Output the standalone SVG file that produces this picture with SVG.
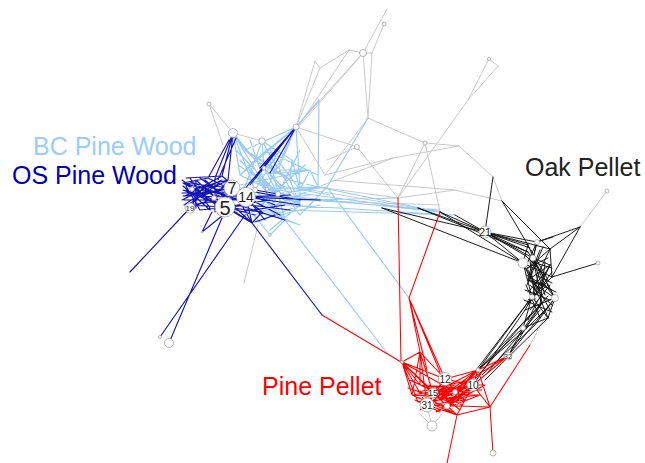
<svg xmlns="http://www.w3.org/2000/svg" width="645" height="463" viewBox="0 0 645 463">
<style>
.e{fill:none;stroke-linecap:round;stroke-linejoin:round}
.gr{stroke:#c4c4c4;stroke-width:0.9}
.lb{stroke:#99ccf5;stroke-width:1.2}
.db{stroke:#1515b5;stroke-width:1.15}
.bk{stroke:#111;stroke-width:0.95}
.rd{stroke:#f00;stroke-width:1.05}
.n{fill:#fff;stroke:#9a9a9a;stroke-width:0.7}
.nl{font-family:"Liberation Sans",Arial,sans-serif;fill:#222;text-anchor:middle}
.lab{font-family:"Liberation Sans",Arial,sans-serif;font-size:25px}
</style>
<rect width="645" height="463" fill="#fff"/>
<g id="connectors">
<path class="e gr" d="M387,9 L363,53 M384,24 L372,53 M363,53 L349,50 M363,53 L372,53 M349,50 L320,68 M315,61 L320,68 M315,61 L296,127 M320,68 L296,127 M363,53 L296,127 M349,50 L298,127 M360,57 L300,125 M363,53 L368,118 M372,53 L368,118 M368,118 L325,175 M296,127 L357,147 M357,147 L398,198 M368,118 L425,143 M425,143 L398,198 M425,143 L440,212 M498,66 L468,100 L398,198 M489,59 L498,66 M489,59 L468,100 M425,143 L459,146 M459,146 L493,177 M493,177 L502,201 M393,158 L459,146 M393,158 L318,187 M357,147 L327,160 M455,190 L502,201 M455,190 L398,198 M209,104 L233,133 M209,104 L223,145 M233,133 L262,141 M258,225 L244,283 M607,191 L580,227 M555,298 L530,345 M325,175 L393,158 M318,187 L398,198 M300,188 L440,212 M330,180 L455,190 M296,200 L440,205 M432,426 L420,414 M432,426 L442,414 M427,405 L432,426 M296,127 L325,175"/>
<path class="e lb" d="M319,100 L296,127 M319,100 L318,187 M296,127 L245,150 M296,127 L255,160 M296,127 L240,175 M296,127 L278,170 M233,133 L245,150 M233,133 L255,160 M233,133 L255,190 M233,133 L240,175 M262,141 L255,160 M262,141 L278,170 M262,141 L264,168 M262,141 L292,160 M245,150 L278,170 M255,160 L290,180 M264,168 L278,194 M278,170 L290,180 M290,180 L300,205 M267,189 L300,205 M278,194 L285,220 M240,175 L278,194 M292,160 L290,180 M292,160 L300,190 M310,170 L300,190 M310,170 L318,187 M300,190 L300,205 M260,205 L300,205 M260,205 L285,220 M250,210 L285,220 M250,210 L270,235 M270,235 L285,220 M285,220 L387,353 M327,187 L409,298 M255,190 L285,220 M267,189 L318,187 M278,170 L310,170 M290,180 L318,187 M278,194 L327,187 M262,188 L440,212 M280,195 L440,212 M290,205 L450,215 M300,200 L398,198 M250,195 L440,210 M318,187 L440,212 M285,210 L455,215 M368,118 L327,187 M245,150 L264,168 M255,160 L240,175 M264,168 L300,205 M245,150 L290,180 M240,160 L267,189 M270,150 L300,190 M250,175 L310,170 M275,205 L318,187 M258,222 L300,205 M245,215 L278,194 M270,160 L285,220 M296,127 L300,190 M300,215 L327,187 M236,150 L278,194 M238,165 L300,205 M250,140 L267,189 M262,141 L240,200 M280,150 L255,190 M285,140 L264,168 M240,185 L310,170 M255,175 L290,205 M270,175 L300,215 M260,200 L310,195 M280,215 L320,205 M248,165 L285,220 M262,141 L300,205 M233,133 L267,189 M296,127 L267,189 M300,150 L278,194 M305,165 L260,205 M290,170 L270,210 M245,200 L318,187 M255,215 L300,195 M275,185 L330,195 M265,150 L318,175 M270,230 L300,205 M262,210 L300,225 M300,225 L285,220 M240,190 L275,160"/>
<path class="e db" d="M183,183 L232,188 M183,183 L225,207 M185,196 L246,197 M185,196 L232,188 M188,205 L225,207 M188,205 L246,197 M183,183 L208,178 M208,178 L246,197 M196,180 L225,207 M192,189 L228,180 M192,189 L246,197 M200,195 L232,188 M204,186 L225,207 M210,200 L232,188 M214,198 L228,180 M218,184 L188,205 M222,176 L185,196 M222,176 L246,197 M225,195 L183,183 M228,180 L200,195 M190,208 L214,198 M190,208 L204,186 M183,190 L225,207 M196,180 L196,208 M186,178 L222,176 M184,200 L240,200 M200,210 L250,205 M183,186 L210,210 M215,178 L215,212 M205,180 L240,212 M182,193 L228,192 M186,186 L200,210 M182,180 L215,204 M182,200 L222,180 M190,178 L210,208 M198,186 L238,200 M184,205 L212,186 M200,178 L230,200 M186,190 L218,204 M192,200 L228,186 M207,192 L183,196 M220,190 L190,182 M232,188 L262,212 M246,197 L280,215 M225,207 L262,212 M225,207 L255,215 M246,197 L300,205 M238,205 L285,220 M232,188 L300,200 M246,197 L320,200 M225,207 L252,223 M246,197 L252,223 M232,188 L252,223 M214,198 L252,223 M240,212 L252,223 M262,212 L252,223 M252,223 L322,315 M233,133 L222,176 M233,133 L215,178 M233,133 L228,180 M229,140 L208,178 M236,138 L218,180 M296,127 L270,173 M296,127 L260,168 M296,127 L250,185 M296,127 L244,190 M190,208 L130,272 M245,215 L160,337 M222,218 L169,343 M222,216 L202,232 M212,212 L202,232 M255,190 L278,194 M246,197 L290,195 M232,188 L275,205 M225,207 L270,200 M250,205 L290,210 M246,197 L265,220 M240,212 L285,205 M275,215 L255,222"/>
<path class="e bk" d="M485,232 L528,245 M485,232 L537,242 M485,232 L523,263 M485,232 L533,258 M485,232 L550,249 M485,232 L528,252 M485,232 L530,248 M485,232 L526,256 M382,208 L485,232 M418,208 L485,232 M440,212 L485,232 M382,208 L523,263 M418,208 L528,252 M440,212 L523,263 M455,215 L485,232 M493,177 L485,232 M502,201 L528,245 M502,201 L550,249 M580,227 L537,242 M580,227 L550,249 M580,227 L552,277 M537,242 L553,237 M598,263 L552,277 M528,245 L523,263 M537,242 L533,258 M550,249 L552,277 M523,263 L532,297 M533,258 L555,298 M550,249 L540,270 M528,245 L545,285 M537,242 L528,280 M523,263 L552,277 M533,258 L542,303 M540,270 L532,297 M550,265 L532,297 M545,285 L555,298 M528,280 L555,298 M538,290 L523,263 M552,277 L532,297 M540,270 L555,298 M550,265 L528,280 M523,263 L542,303 M533,258 L550,265 M528,280 L545,285 M538,290 L550,265 M548,318 L532,297 M555,298 L548,318 M542,303 L548,318 M525,310 L555,298 M532,297 L525,310 M535,325 L555,298 M523,328 L548,318 M523,328 L532,297 M518,336 L542,303 M528,252 L540,270 M527,268 L548,258 M530,285 L552,305 M526,275 L552,290 M548,270 L528,292 M535,265 L545,295 M525,255 L545,275 M540,250 L530,275 M550,285 L530,310 M538,300 L528,320 M545,310 L520,335 M525,290 L550,300 M532,262 L552,268 M528,300 L548,285 M537,242 L525,268 M550,249 L526,270 M530,260 L535,300 M545,262 L540,305 M528,270 L550,310 M552,272 L528,305 M534,282 L556,292 M526,285 L540,318 M548,296 L525,322 M531,250 L548,280 M543,247 L527,285 M536,275 L552,283 M524,300 L552,312 M532,297 L478,370 M542,303 L478,370 M523,328 L478,370 M535,325 L482,375 M548,318 L485,380 M525,310 L473,385 M532,297 L470,378 M518,336 L478,370 M523,328 L508,356 M542,303 L508,356 M555,298 L508,356 M530,315 L476,378 M540,310 L488,372"/>
<path class="e rd" d="M398,198 L401,362 M440,212 L409,298 M409,298 L420,352 M409,298 L427,370 M409,298 L440,372 M409,298 L445,379 M322,315 L401,362 M402,362 L433,393 M402,362 L427,405 M402,362 L445,379 M402,362 L412,395 M402,362 L420,385 M402,362 L440,398 M402,362 L455,392 M402,362 L418,402 M402,362 L447,406 M420,352 L445,379 M420,352 L433,393 M420,352 L427,405 M420,352 L420,385 M420,352 L412,395 M420,352 L402,362 M445,379 L473,385 M445,379 L433,393 M445,379 L455,392 M445,379 L447,406 M445,379 L427,405 M445,379 L478,370 M445,379 L465,400 M473,385 L478,370 M473,385 L455,392 M473,385 L457,415 M473,385 L490,407 M473,385 L433,393 M473,385 L447,406 M473,385 L427,405 M473,385 L440,398 M473,385 L418,402 M473,385 L485,385 M473,385 L508,356 M412,395 L473,385 M418,402 L480,395 M420,385 L462,388 M427,405 L465,400 M433,393 L480,395 M436,412 L473,385 M440,398 L478,370 M447,406 L470,378 M452,398 L412,395 M457,415 L427,405 M462,388 L418,402 M465,400 L420,385 M480,395 L436,412 M412,395 L457,415 M433,393 L457,415 M427,405 L490,407 M447,406 L485,385 M478,370 L508,356 M478,370 L455,392 M478,370 L447,406 M478,370 L433,393 M490,407 L493,453 M490,407 L457,415 M490,407 L530,345 M490,407 L478,370 M457,415 L447,463 M508,356 L440,398 M415,400 L440,412 M425,390 L470,392 M408,388 L450,402 M410,380 L462,405 M418,392 L470,380 M430,385 L460,410 M438,392 L482,390 M450,388 L420,410 M462,395 L430,402 M445,410 L478,382 M416,398 L455,385 M440,405 L468,392 M428,398 L452,412"/>
</g>
<g id="nodes">
<g id="n-top"><circle class="n" cx="384" cy="24" r="2"/><circle class="n" cx="363" cy="53" r="3.5"/><circle class="n" cx="489" cy="59" r="1.6"/></g>
<g id="n-mid"><circle class="n" cx="296" cy="127" r="3"/><circle class="n" cx="357" cy="147" r="2.5"/><circle class="n" cx="425" cy="143" r="2"/><circle class="n" cx="209" cy="104" r="2"/></g>
<g id="n-bc"><circle class="n" cx="233" cy="133" r="4.5"/><circle class="n" cx="262" cy="141" r="3.2"/><circle class="n" cx="264" cy="168" r="2"/><circle class="n" cx="278" cy="170" r="2"/><circle class="n" cx="255" cy="190" r="2.5"/><circle class="n" cx="278" cy="194" r="2.5"/><circle class="n" cx="267" cy="189" r="1.8"/><circle class="n" cx="270" cy="235" r="1.3"/></g>
<g id="n-os"><circle class="n" cx="192" cy="189" r="2.2"/><circle class="n" cx="214" cy="198" r="2.5"/><circle class="n" cx="169" cy="343" r="4.5"/><circle class="n" cx="160" cy="337" r="1.5"/><circle class="n" cx="202" cy="232" r="1"/></g>
<g id="n19"><circle class="n" cx="190" cy="208" r="5"/><text class="nl" x="190" y="211" font-size="8">19</text></g>
<g id="n7"><circle class="n" cx="232" cy="188" r="8"/><text class="nl" x="232" y="194" font-size="16">7</text></g>
<g id="n5"><circle class="n" cx="225" cy="207" r="10"/><text class="nl" x="225" y="214.5" font-size="20">5</text></g>
<g id="n14"><circle class="n" cx="246" cy="197" r="9.5"/><text class="nl" x="246" y="202" font-size="14">14</text></g>
<g id="n-oak"><circle class="n" cx="607" cy="191" r="2"/><circle class="n" cx="598" cy="263" r="2"/><circle class="n" cx="523" cy="263" r="5"/><circle class="n" cx="555" cy="298" r="3.5"/><circle class="n" cx="533" cy="258" r="3"/><circle class="n" cx="537" cy="242" r="2.5"/><circle class="n" cx="532" cy="297" r="2.5"/><circle class="n" cx="523" cy="328" r="2.5"/></g>
<g id="n21"><circle class="n" cx="485" cy="232" r="6"/><text class="nl" x="485" y="236" font-size="11">21</text></g>
<g id="n32"><circle class="n" cx="508" cy="356" r="4"/><text class="nl" x="508" y="358.5" font-size="7">32</text></g>
<g id="n-pine"><circle class="n" cx="432" cy="426" r="5"/><circle class="n" cx="493" cy="453" r="3"/><circle class="n" cx="402" cy="362" r="1.5"/><circle class="n" cx="455" cy="392" r="2.5"/><circle class="n" cx="447" cy="406" r="3"/><circle class="n" cx="478" cy="370" r="2"/></g>
<g id="n12"><circle class="n" cx="445" cy="379" r="6.5"/><text class="nl" x="445" y="383" font-size="10">12</text></g>
<g id="n10"><circle class="n" cx="473" cy="385" r="6"/><text class="nl" x="473" y="389" font-size="10">10</text></g>
<g id="n15"><circle class="n" cx="433" cy="393" r="5"/><text class="nl" x="433" y="396" font-size="9">15</text></g>
<g id="n31"><circle class="n" cx="427" cy="405" r="7"/><text class="nl" x="427" y="409" font-size="10">31</text></g>
</g>
<g id="labels">
<text class="lab" x="33" y="155" fill="#99ccff">BC Pine Wood</text>
<text class="lab" x="12" y="184" fill="#0000b4">OS Pine Wood</text>
<text class="lab" x="525" y="176" fill="#222">Oak Pellet</text>
<text class="lab" x="262" y="395" fill="#f00">Pine Pellet</text>
</g>
</svg>
